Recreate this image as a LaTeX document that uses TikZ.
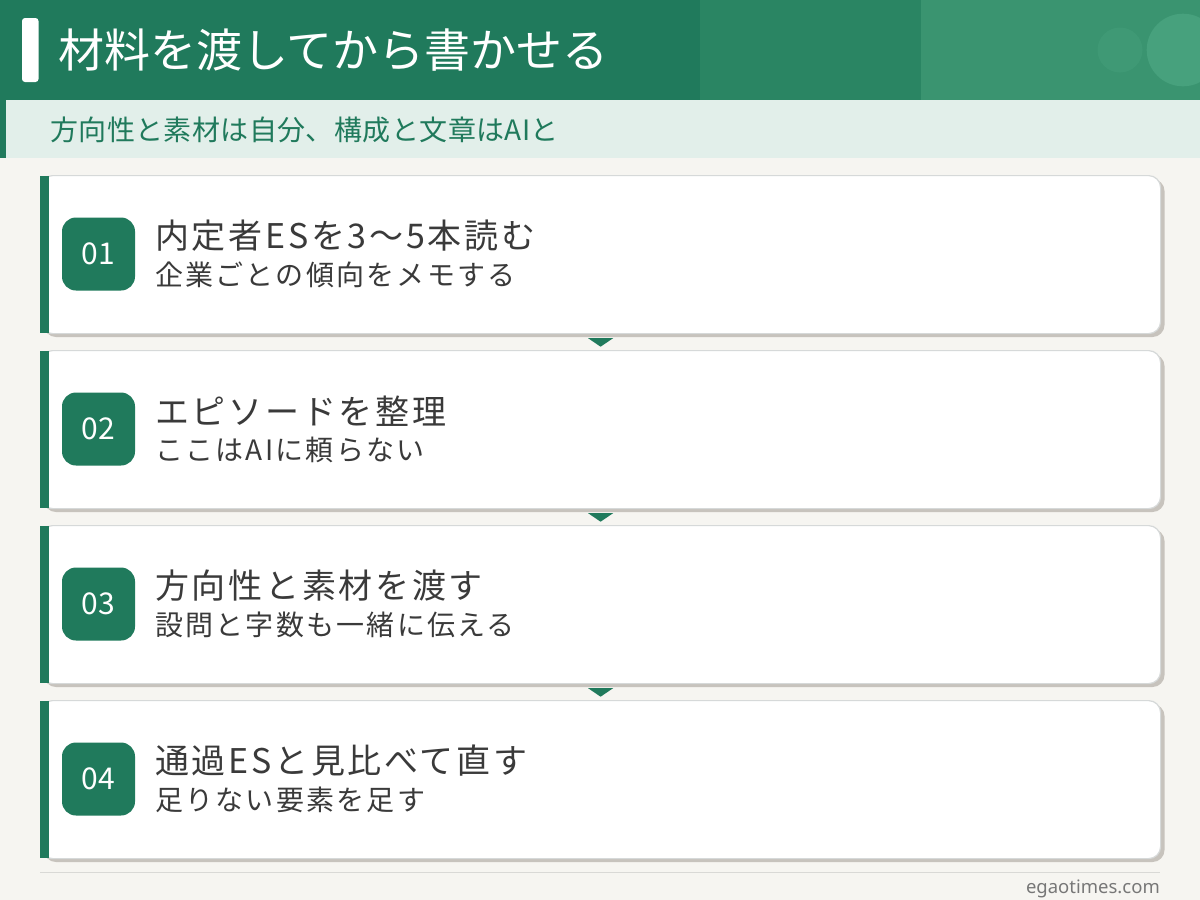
\documentclass[tikz,border=0pt]{standalone}
\usepackage{fontspec}
\setmainfont{Noto Sans CJK JP}
\newfontfamily\jp{Noto Sans CJK JP}
\newfontfamily\jpsp{Noto Sans CJK JP}[LetterSpace=8]
\newfontfamily\jpsub{Noto Sans CJK JP}[LetterSpace=1.5]
\newfontfamily\lat{Noto Sans}
\usetikzlibrary{calc}
\definecolor{bgc}{HTML}{F6F5F1}
\definecolor{grn}{HTML}{207A5C}
\definecolor{grnmid}{HTML}{2A8563}
\definecolor{grnlt}{HTML}{3A9470}
\definecolor{circa}{HTML}{3F9975}
\definecolor{circb}{HTML}{47A17D}
\definecolor{band}{HTML}{E2EFEA}
\definecolor{shadowc}{HTML}{C7C3BD}
\definecolor{cardline}{HTML}{D6D9D9}
\definecolor{txt}{HTML}{3A3A3A}
\definecolor{foot}{HTML}{777777}
\definecolor{footline}{HTML}{D9D9D6}
\tikzset{
  cardbox/.style={draw=cardline, line width=1.2pt, fill=white, rounded corners=12pt,
    minimum width=1120pt, minimum height=158pt, anchor=north west, inner sep=0pt},
  cardshadow/.style={fill=shadowc, rounded corners=12pt},
  badge/.style={fill=grn, rounded corners=14pt, minimum width=73pt, minimum height=73pt,
    inner sep=0pt, text=white, font=\jp\fontsize{30}{30}\selectfont},
  steptitle/.style={anchor=west, inner sep=0pt, text=txt, font=\jpsp\fontsize{34}{34}\selectfont},
  stepsub/.style={anchor=west, inner sep=0pt, text=txt, font=\jpsp\fontsize{28}{28}\selectfont},
  arrowtri/.style={fill=grn},
}
\begin{document}
\begin{tikzpicture}[x=1pt,y=-1pt]
\useasboundingbox (0,0) rectangle (1200,900);
\fill[bgc] (0,0) rectangle (1200,900);
% header
\fill[grn] (0,0) rectangle (1200,100);
\fill[grnmid] (700,0) rectangle (1200,100);
\fill[grnlt] (921,0) rectangle (1200,100);
\begin{scope}
\clip (921,0) rectangle (1200,100);
\fill[circa] (1120,50) circle (22.5);
\fill[circb] (1183,50) circle (36.3);
\end{scope}
\fill[white, rounded corners=3pt] (22,18) rectangle (38.5,82);
\node[anchor=west, inner sep=0pt, text=white, font=\jp\fontsize{46}{46}\selectfont] (title) at (58,50) {材料を渡してから書かせる};
% subtitle band
\fill[grn] (0,100) rectangle (6,158);
\fill[band] (6,100) rectangle (1200,158);
\node[anchor=west, inner sep=0pt, text=grn, font=\jpsub\fontsize{28}{28}\selectfont] (subtitle) at (50,130) {方向性と素材は自分、構成と文章はAIと};
% cards
\foreach \i/\t/\s in {1/内定者ESを3〜5本読む/企業ごとの傾向をメモする,
                      2/エピソードを整理/ここはAIに頼らない,
                      3/方向性と素材を渡す/設問と字数も一緒に伝える,
                      4/通過ESと見比べて直す/足りない要素を足す}{
  \pgfmathsetmacro\top{175+175*(\i-1)}
  \fill[cardshadow] (44,\top+4) rectangle (1164.5,\top+162);
  \node[cardbox] (card\i) at (40,\top) {};
  \fill[grn] (40,\top+1) rectangle (48.5,\top+158);
  \node[badge] (badge\i) at (98.5,\top+79) {0\i};
  \node[steptitle] (title\i) at (155,\top+61) {\t};
  \node[stepsub] (sub\i) at (155,\top+100) {\s};
}
% connectors (triangles)
\foreach \a/\b in {1/2,2/3,3/4}{
  \fill[arrowtri] ($(card\a.south)+(-12.5,4)$) -- ($(card\a.south)+(12.5,4)$) -- ($(card\a.south)+(0,12.5)$) -- cycle;
}
% footer
\draw[footline, line width=1pt] (40,872) -- (1160,872);
\node[anchor=east, inner sep=0pt, text=foot, font=\lat\fontsize{18.5}{18.5}\selectfont] (footer) at (1160,889) {egaotimes.com};
\end{tikzpicture}
\end{document}
